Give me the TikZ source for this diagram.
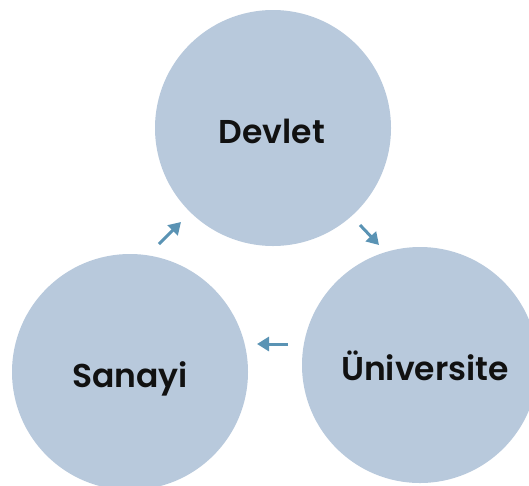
\documentclass[tikz,border=0pt]{standalone}
\usepackage{fontspec}
\setmainfont{Poppins}[BoldFont={Poppins SemiBold}]
\usetikzlibrary{arrows.meta}
\definecolor{circfill}{HTML}{B8C9DC}
\definecolor{arrcol}{HTML}{5A93B4}
\definecolor{txtcol}{HTML}{111111}
\begin{document}
\begin{tikzpicture}[x=1pt,y=-1pt,
  bubble/.style={circle,fill=circfill,minimum size=236pt,inner sep=0pt},
  lbl/.style={anchor=base,inner sep=0pt,text=txtcol,font=\fontsize{33}{35}\selectfont\bfseries},
  flow/.style={draw=arrcol,line width=3pt,-{Triangle[length=12pt,width=14pt]}}]
\useasboundingbox (0,0) rectangle (529,485);
\node[bubble] (dev) at (273,128) {};
\node[bubble] (uni) at (420,365) {};
\node[bubble] (san) at (130,372) {};
\node[lbl] (devt) at (272,143) {Devlet};
\node[lbl] (unit) at (425,380) {Üniversite};
\node[lbl] (sant) at (130,387) {Sanayi};
\coordinate (a1s) at (360,225); \coordinate (a1e) at (379,245);
\coordinate (a2s) at (288,344); \coordinate (a2e) at (257,344);
\coordinate (a3s) at (159,244); \coordinate (a3e) at (181,222);
\draw[flow] (a1s) -- (a1e);
\draw[flow] (a2s) -- (a2e);
\draw[flow] (a3s) -- (a3e);
\end{tikzpicture}
\end{document}
